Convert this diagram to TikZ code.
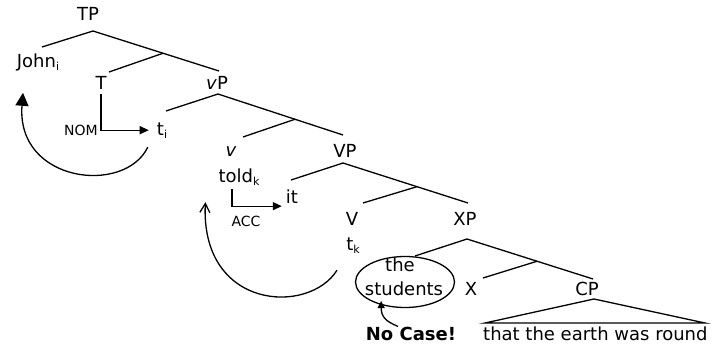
\documentclass[tikz,border=0pt]{standalone}
\usepackage{fontspec}
\setmainfont{DejaVu Sans}
\usetikzlibrary{arrows.meta, calc, shapes.geometric}
\newcommand{\lowidx}[1]{\raisebox{-3pt}{\fontsize{11}{11}\selectfont #1}}

\begin{document}
\begin{tikzpicture}[x=1pt, y=-1pt, >=Latex,
    big/.style={font=\fontsize{18}{21}\selectfont},
    small/.style={font=\fontsize{14}{16}\selectfont},
    cat/.style={big, anchor=base, inner sep=0pt},
    branch/.style={line width=1.3pt},
    casearrow/.style={line width=1.2pt, -{Triangle[length=9pt, width=8pt]}},
    movearrow/.style={line width=1.3pt, -{Triangle[length=13pt, width=13pt]}}]
      \useasboundingbox (0,0) rectangle (712,345);

      \node[cat] (TP) at (88,21) {TP};
      \node[cat] (John) at (38,67) {John\lowidx{i}};
      \node[cat] (T) at (101,89) {T};
      \node[cat] (vP) at (217,89) {\textit{v}P};
      \node[cat] (ti) at (162,135) {t\lowidx{i}};
      \node[cat, small] (NOM) at (81,135) {NOM};
      \node[cat] (v) at (231,156) {\textit{v}};
      \node[cat] (told) at (239,182) {told\lowidx{k}};
      \node[cat] (VP) at (345,157) {VP};
      \node[cat] (it) at (292,203) {it};
      \node[cat, small] (ACC) at (246,226) {ACC};
      \node[cat] (V) at (352,225) {V};
      \node[cat] (tk) at (353,250) {t\lowidx{k}};
      \node[cat] (XP) at (465,225) {XP};
      \node[cat] (the) at (400,271) {the};
      \node[cat] (students) at (404,295) {students};
      \node[draw, ellipse, branch, minimum width=99pt, minimum height=51pt] (subj) at (405,282) {};
      \node[cat] (X) at (471,295) {X};
      \node[cat] (CP) at (587,295) {CP};
      \node[cat, anchor=base west] (clause) at (483,340) {that the earth was round};
      \node[cat, font=\fontsize{18}{21}\selectfont\bfseries] (nocase) at (411,340) {No Case!};

      \coordinate (TP-a) at (93,31);
      \coordinate (John-e) at (42,47);
      \coordinate (vP-e) at (219,71);
      \coordinate (TP-m) at ($(TP-a)!0.556!(vP-e)$);
      \coordinate (T-e) at (109,72);
      \coordinate (vP-a) at (218,94);
      \coordinate (ti-e) at (166,111);
      \coordinate (VP-e) at (343,135);
      \coordinate (vP-m) at ($(vP-a)!0.616!(VP-e)$);
      \coordinate (v-e) at (243,137);
      \coordinate (VP-a) at (343,163);
      \coordinate (it-e) at (291,180);
      \coordinate (XP-e) at (468,203);
      \coordinate (VP-m) at ($(VP-a)!0.592!(XP-e)$);
      \coordinate (V-e) at (363,203);
      \coordinate (XP-a) at (467,239);
      \coordinate (subj-e) at (415,256);
      \coordinate (CP-e) at (593,279);
      \coordinate (XP-m) at ($(XP-a)!0.556!(CP-e)$);
      \coordinate (X-e) at (483,278);
      \coordinate (CP-a) at (594,299);
      \coordinate (tri-l) at (485,323);
      \coordinate (tri-r) at (705,323);

      \draw[branch] (John-e) -- (TP-a) -- (vP-e);
      \draw[branch] (TP-m) -- (T-e);
      \draw[branch] (ti-e) -- (vP-a) -- (VP-e);
      \draw[branch] (vP-m) -- (v-e);
      \draw[branch] (it-e) -- (VP-a) -- (XP-e);
      \draw[branch] (VP-m) -- (V-e);
      \draw[branch] (subj-e) -- (XP-a) -- (CP-e);
      \draw[branch] (XP-m) -- (X-e);
      \draw[branch] (CP-a) -- (tri-l) -- (tri-r) -- cycle;

      \draw[casearrow] ([yshift=-5pt]T.south) |- ([xshift=-8pt]ti.west);
      \draw[casearrow] ([xshift=-7pt, yshift=-4pt]told.south) |- ([xshift=-4pt, yshift=-10pt]it.west);
      \draw[movearrow] ([xshift=-9pt, yshift=-9pt]ti.south west) .. controls +(-23,48) and +(-7,90) .. ([xshift=-15pt, yshift=-22pt]John.south);
      \draw[line width=1.3pt, -{Straight Barb[length=9pt, width=10pt]}] ([xshift=-16pt, yshift=-17pt]tk.south) .. controls +(-28,45) and +(-5,108) .. ([xshift=-13pt, yshift=-17pt]told.south west);
      \draw[line width=1.3pt, -{Triangle[length=7pt, width=7pt]}, shorten >=-4pt] ([xshift=-13pt]nocase.north) .. controls +(-12,-5) and +(0,12) .. (subj.224);
    \end{tikzpicture}
\end{document}
